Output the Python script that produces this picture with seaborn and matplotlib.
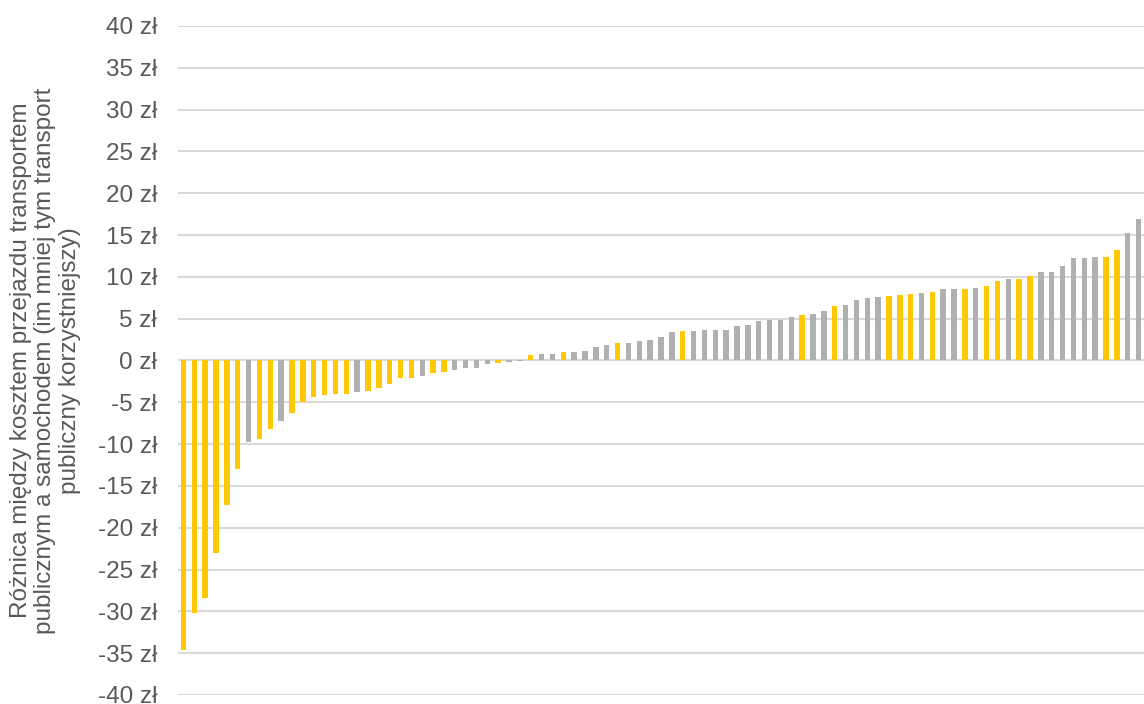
import numpy as np
import pandas as pd
import matplotlib
matplotlib.use('Agg')
import matplotlib.pyplot as plt
import seaborn as sns

# różnica kosztów (zł) dla kolejnych tras, posortowane rosnąco
wartosci = [-34.6, -30.2, -28.4, -23.0, -17.3, -13.0, -9.7, -9.4, -8.2, -7.2,
            -6.3, -4.95, -4.4, -4.1, -3.95, -3.95, -3.8, -3.7, -3.3, -2.8,
            -2.15, -2.1, -1.9, -1.55, -1.4, -1.15, -0.9, -0.9, -0.45, -0.35,
            -0.2, -0.05, 0.7, 0.8, 0.8, 1.05, 1.05, 1.15, 1.6, 1.85,
            2.15, 2.15, 2.3, 2.5, 2.8, 3.4, 3.5, 3.55, 3.6, 3.65,
            3.65, 4.1, 4.3, 4.7, 4.8, 4.9, 5.25, 5.45, 5.5, 5.9,
            6.5, 6.6, 7.2, 7.45, 7.55, 7.7, 7.85, 7.95, 8.05, 8.2,
            8.5, 8.6, 8.6, 8.7, 8.9, 9.5, 9.7, 9.7, 10.15, 10.55,
            10.6, 11.3, 12.2, 12.3, 12.35, 12.4, 13.2, 15.2, 16.9]

# Y = żółty, G = szary
grupy = list('YYYYYYGYYGYYYYYYGYYYYYGYYGGGGYGGYGGYGGGG'
             'YGGGGGYGGGGGGGGGGYGGYGGGGYYYGYGGYGYYGYYGGGGGGYYGG')

palette = {'Y': '#FFC800', 'G': '#B0B0B0'}
yticks = list(range(-40, 45, 5))
ytick_labels = [f'{t} zł' for t in yticks]

df = pd.DataFrame({'nr': range(len(wartosci)), 'roznica': wartosci, 'grupa': grupy})

sns.set_style('white')
plt.rcParams['font.family'] = ['Liberation Sans', 'DejaVu Sans']

fig = plt.figure(figsize=(11.44, 7.04), dpi=100)
ax = fig.add_axes([0.1556, 0.0128, 0.8444, 0.9503])

sns.barplot(data=df, x='nr', y='roznica', hue='grupa', palette=palette,
            dodge=False, legend=False, width=0.5, saturation=1,
            linewidth=0, ax=ax, zorder=3)

ax.set_ylim(-40, 40)
ax.set_xlim(-0.5, len(wartosci) - 0.5)
ax.set_yticks(yticks)
ax.set_yticklabels(ytick_labels, fontsize=17.5, color='#595959')
ax.set_xticks([])
ax.set_xlabel('')
ax.tick_params(axis='y', length=0, pad=15)
ax.yaxis.grid(True, color='#d9d9d9', linewidth=1.5, zorder=0)
ax.set_axisbelow(True)
for s in ax.spines.values():
    s.set_visible(False)

ax.set_ylabel('Różnica między kosztem przejazdu transportem\n'
              'publicznym a samochodem (im mniej tym transport\n'
              'publiczny korzystniejszy)',
              fontsize=17.5, color='#595959', labelpad=12, linespacing=1.15)

fig.savefig('out.png', dpi=100)
